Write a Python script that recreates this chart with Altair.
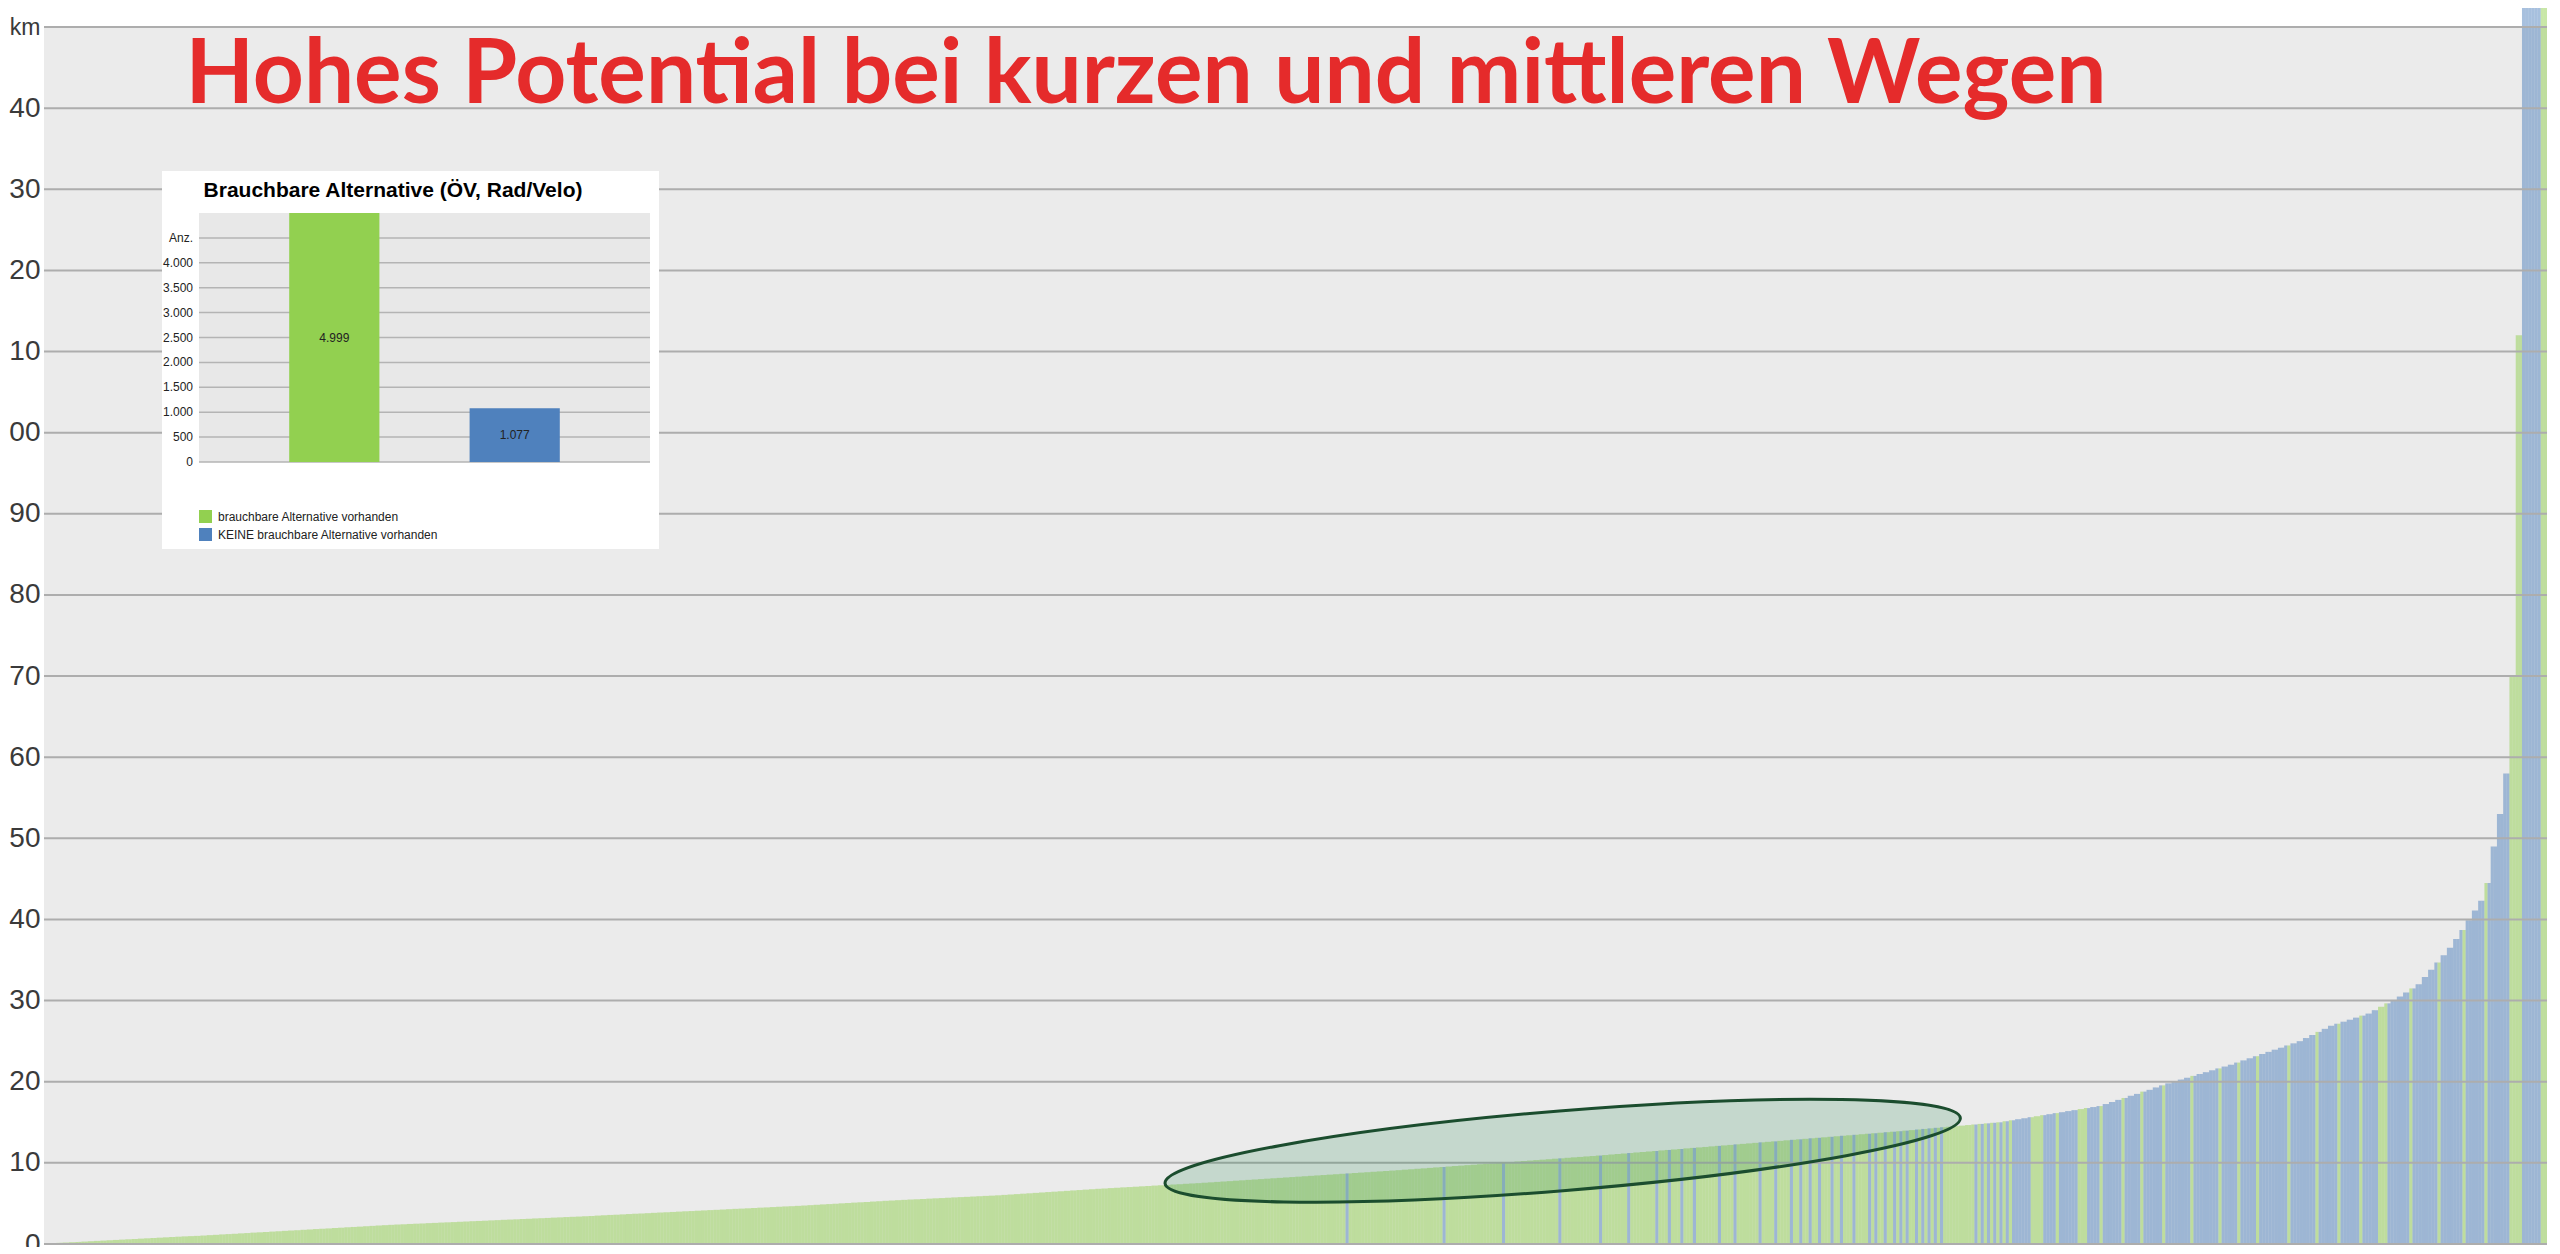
import altair as alt
import pandas as pd

# ---------------- data ----------------
# distances (km) of the sorted trips, one value per bar
KM = [
    0.05, 0.1, 0.14, 0.18, 0.22, 0.26, 0.3, 0.34, 0.38, 0.42, 0.46, 0.5, 0.54, 0.58, 0.62, 0.66, 0.7, 0.74, 0.78, 0.82,
    0.86, 0.9, 0.94, 0.97, 1.0, 1.04, 1.09, 1.13, 1.18, 1.22, 1.26, 1.31, 1.35, 1.4, 1.44, 1.48, 1.53, 1.57, 1.62, 1.66,
    1.7, 1.75, 1.79, 1.84, 1.88, 1.92, 1.97, 2.01, 2.06, 2.1, 2.14, 2.19, 2.23, 2.28, 2.32, 2.36, 2.4, 2.43, 2.47, 2.5,
    2.53, 2.57, 2.6, 2.64, 2.67, 2.7, 2.74, 2.77, 2.81, 2.84, 2.87, 2.91, 2.94, 2.98, 3.01, 3.04, 3.08, 3.11, 3.15, 3.18,
    3.21, 3.25, 3.28, 3.32, 3.35, 3.38, 3.42, 3.45, 3.5, 3.54, 3.58, 3.61, 3.65, 3.69, 3.73, 3.76, 3.8, 3.84, 3.88, 3.91,
    3.95, 3.99, 4.03, 4.06, 4.1, 4.14, 4.18, 4.21, 4.25, 4.29, 4.33, 4.36, 4.4, 4.44, 4.48, 4.51, 4.55, 4.59, 4.63, 4.66,
    4.7, 4.74, 4.79, 4.83, 4.88, 4.92, 4.96, 5.01, 5.05, 5.1, 5.14, 5.18, 5.23, 5.27, 5.32, 5.36, 5.4, 5.44, 5.48, 5.51,
    5.55, 5.59, 5.63, 5.66, 5.7, 5.74, 5.78, 5.81, 5.85, 5.89, 5.93, 5.96, 6.0, 6.05, 6.1, 6.15, 6.2, 6.25, 6.3, 6.35,
    6.4, 6.45, 6.5, 6.55, 6.6, 6.65, 6.7, 6.75, 6.8, 6.84, 6.89, 6.93, 6.98, 7.02, 7.06, 7.11, 7.15, 7.2, 7.24, 7.28,
    7.33, 7.37, 7.42, 7.46, 7.5, 7.55, 7.6, 7.65, 7.7, 7.75, 7.8, 7.85, 7.9, 7.95, 8.0, 8.05, 8.1, 8.15, 8.2, 8.25,
    8.3, 8.35, 8.4, 8.45, 8.5, 8.55, 8.6, 8.65, 8.7, 8.75, 8.8, 8.85, 8.9, 8.95, 9.0, 9.05, 9.1, 9.16, 9.21, 9.27,
    9.32, 9.38, 9.44, 9.49, 9.55, 9.61, 9.66, 9.72, 9.77, 9.83, 9.89, 9.94, 10.0, 10.06, 10.11, 10.17, 10.23, 10.28, 10.34, 10.39,
    10.45, 10.51, 10.56, 10.62, 10.68, 10.73, 10.79, 10.84, 10.9, 10.96, 11.03, 11.09, 11.15, 11.21, 11.28, 11.34, 11.4, 11.46, 11.53, 11.59,
    11.65, 11.71, 11.78, 11.84, 11.9, 11.96, 12.03, 12.09, 12.15, 12.21, 12.28, 12.34, 12.4, 12.46, 12.53, 12.59, 12.65, 12.71, 12.78, 12.84,
    12.9, 12.96, 13.03, 13.09, 13.15, 13.21, 13.28, 13.34, 13.4, 13.46, 13.53, 13.59, 13.65, 13.71, 13.78, 13.84, 13.9, 13.97, 14.04, 14.11,
    14.18, 14.25, 14.32, 14.39, 14.45, 14.52, 14.59, 14.66, 14.73, 14.8, 14.87, 14.94, 15.0, 15.13, 15.25, 15.38, 15.5, 15.63, 15.75, 15.88,
    16.0, 16.13, 16.25, 16.38, 16.5, 16.63, 16.75, 16.88, 17.0, 17.25, 17.5, 17.76, 18.0, 18.27, 18.5, 18.78, 19.0, 19.3, 19.55, 19.8,
    20.03, 20.26, 20.49, 20.72, 20.95, 21.18, 21.41, 21.64, 21.87, 22.1, 22.36, 22.63, 22.89, 23.15, 23.42, 23.68, 23.95, 24.2, 24.47, 24.73,
    25.0, 25.38, 25.76, 26.14, 26.52, 26.9, 27.15, 27.4, 27.65, 27.9, 28.15, 28.4, 28.82, 29.24, 29.66, 30.08, 30.5, 31.0, 31.5, 32.0,
    32.9, 33.8, 34.7, 35.6, 36.5, 37.6, 38.7, 39.9, 41.1, 42.3, 44.5, 49.0, 53.0, 58.0, 70.0, 112.0, 180.0, 185.0, 190.0, 200.0,
]

# each distance reading is drawn as two half-width stripes; these runs of
# stripes (inclusive start/end stripe index, 0..799) have NO usable
# alternative (blue); every other stripe is green
BLUE_RUNS = [
    (416, 416), (447, 447), (466, 466), (484, 484), (497, 497), (506, 506), (515, 515),
    (519, 519), (523, 523), (527, 527), (535, 535), (540, 540), (548, 548), (553, 553),
    (558, 558), (561, 561), (564, 564), (567, 567), (571, 571), (574, 574), (578, 578),
    (583, 583), (585, 585), (588, 588), (591, 591), (593, 593), (595, 595), (598, 598),
    (600, 600), (602, 602), (604, 604), (606, 606), (617, 617), (619, 619), (621, 621),
    (623, 623), (625, 625), (627, 627), (629, 634), (639, 642), (644, 649), (653, 656),
    (658, 663), (665, 669), (671, 676), (678, 685), (687, 694), (696, 700), (702, 706),
    (708, 716), (718, 725), (727, 732), (734, 739), (741, 745), (749, 755), (757, 764),
    (766, 772), (774, 779), (781, 787), (792, 797),
]

Y_TICKS = [0, 10, 20, 30, 40, 50, 60, 70, 80, 90, 100, 110, 120, 130, 140, 150]
Y_TICK_LABELS = ["0", "10", "20", "30", "40", "50", "60", "70", "80", "90",
                 "00", "10", "20", "30", "40", "km"]

INSET_CATS = ["brauchbare Alternative vorhanden", "KEINE brauchbare Alternative vorhanden"]
INSET_VALUES = [4999, 1077]
INSET_VALUE_LABELS = ["4.999", "1.077"]
INSET_TICKS = [0, 500, 1000, 1500, 2000, 2500, 3000, 3500, 4000, 4500]
INSET_TICK_LABELS = ["0", "500", "1.000", "1.500", "2.000", "2.500", "3.000", "3.500", "4.000", "Anz."]
INSET_COLORS = ["#92d050", "#4f81bd"]

TITLE = "Hohes Potential bei kurzen und mittleren Wegen"
INSET_TITLE = "Brauchbare Alternative (ÖV, Rad/Velo)"

# highlighted region (ellipse) in data units: reading index / km
ELLIPSE_X = [242.7]
ELLIPSE_Y = [11.5]

# ---------------- layout constants ----------------
W, H = 2503, 1217
FONT = "Liberation Sans"

n = len(KM)
blue = set()
for a, b in BLUE_RUNS:
    blue.update(range(a, b + 1))
rows = []
for j in range(2 * n):
    rows.append({
        "x0": j / 2,
        "x1": (j + 1) / 2,
        "km": KM[j // 2],
        "col": INSET_COLORS[1] if j in blue else INSET_COLORS[0],
    })
main_df = pd.DataFrame(rows)

label_expr = "[" + ",".join("'%s'" % s for s in Y_TICK_LABELS) + "][round(datum.value/10)]"

x_main = alt.Scale(domain=[0, n], nice=False, zero=False)
y_main = alt.Scale(domain=[0, 150], nice=False)

bars = alt.Chart(main_df).mark_rect(opacity=0.5, clip=False, strokeWidth=0).encode(
    x=alt.X("x0:Q", scale=x_main, axis=None),
    x2="x1:Q",
    y=alt.Y("km:Q", scale=y_main,
            axis=alt.Axis(values=Y_TICKS, labelExpr=label_expr, grid=False, ticks=False,
                          domain=False,
                          labelFontSize={"condition": {"test": "datum.value == 150", "value": 23},
                                         "value": 28},
                          labelPadding=4, labelFont=FONT,
                          labelColor="#3a3a3a", title=None)),
    y2=alt.datum(0),
    color=alt.Color("col:N", scale=None),
)

grid = alt.Chart(pd.DataFrame({"v": Y_TICKS})).mark_rule(color="#adadad", strokeWidth=2).encode(
    y=alt.Y("v:Q", scale=y_main)
)

ELLIPSE_PATH = ("M -1 0 C -1 -0.05523 -0.5523 -0.1 0 -0.1 C 0.5523 -0.1 1 -0.05523 1 0 "
                "C 1 0.05523 0.5523 0.1 0 0.1 C -0.5523 0.1 -1 0.05523 -1 0 Z")
ellipse = alt.Chart(pd.DataFrame({"x": ELLIPSE_X, "y": ELLIPSE_Y})).mark_point(
    shape=ELLIPSE_PATH, size=798 * 798, angle=355.3, fill="#2e8b57", fillOpacity=0.2,
    stroke="#1b4d2e", strokeWidth=3, opacity=1,
).encode(x=alt.X("x:Q", scale=x_main), y=alt.Y("y:Q", scale=y_main))

main_layer = alt.layer(bars, grid, ellipse)

title = alt.Chart(pd.DataFrame({"t": [TITLE]})).mark_text(
    font="Lato", fontWeight="bold", fontSize=89, color="#e52b2b", align="center",
    baseline="alphabetic",
).encode(text="t:N", x=alt.value(1102), y=alt.value(76))

# ---------------- inset ----------------
x_in = alt.Scale(domain=INSET_CATS, range=[155, 606], paddingInner=0.5, paddingOuter=0.5)
y_in = alt.Scale(domain=[0, 5000], range=[435, 186], clamp=True, nice=False, zero=True)
one = pd.DataFrame({"a": [0]})

box = alt.Chart(one).mark_rect(fill="white").encode(
    x=alt.value(118), x2=alt.value(615), y=alt.value(144), y2=alt.value(522))
in_bg = alt.Chart(one).mark_rect(fill="#e8e8e8").encode(
    x=alt.value(155), x2=alt.value(606), y=alt.value(186), y2=alt.value(435))

tick_df = pd.DataFrame({"v": INSET_TICKS, "lab": INSET_TICK_LABELS})
in_grid = alt.Chart(tick_df).mark_rule(color="#b4b4b4", strokeWidth=1.5).encode(
    y=alt.Y("v:Q", scale=y_in, axis=None), x=alt.value(155), x2=alt.value(606))
in_ticks = alt.Chart(tick_df).mark_text(
    align="right", baseline="middle", fontSize=12, font=FONT, color="#222222"
).encode(y=alt.Y("v:Q", scale=y_in, axis=None), x=alt.value(149), text="lab:N")

in_df = pd.DataFrame({"cat": INSET_CATS, "val": INSET_VALUES, "lab": INSET_VALUE_LABELS})
in_bars = alt.Chart(in_df).mark_bar(strokeWidth=0).encode(
    x=alt.X("cat:N", scale=x_in, axis=None, sort=INSET_CATS),
    y=alt.Y("val:Q", scale=y_in, axis=None),
    color=alt.Color("cat:N", scale=alt.Scale(domain=INSET_CATS, range=INSET_COLORS),
                    legend=alt.Legend(orient="none", legendX=155, legendY=483, title=None,
                                      symbolType="square", symbolSize=169, symbolStrokeWidth=0,
                                      symbolOpacity=1, labelFontSize=12, labelFont=FONT,
                                      labelColor="#222222", rowPadding=5, labelOffset=6,
                                      labelLimit=0, padding=0)),
)
in_labels = alt.Chart(in_df).transform_calculate(mid="datum.val/2").mark_text(
    fontSize=12, font=FONT, color="#222222", baseline="middle"
).encode(
    x=alt.X("cat:N", scale=x_in, axis=None, sort=INSET_CATS),
    y=alt.Y("mid:Q", scale=y_in, axis=None),
    text="lab:N",
)
in_title = alt.Chart(pd.DataFrame({"t": [INSET_TITLE]})).mark_text(
    font=FONT, fontWeight="bold", fontSize=21, color="#000000", align="center",
    baseline="alphabetic",
).encode(text="t:N", x=alt.value(349), y=alt.value(170))

inset_layer = alt.layer(box, in_bg, in_grid, in_bars, in_labels, in_ticks, in_title)

chart = alt.layer(main_layer, inset_layer, title).resolve_scale(
    x="independent", y="independent", color="independent"
).properties(
    width=W, height=H,
    autosize=alt.AutoSizeParams(type="none"),
    padding={"left": 36, "top": 19, "right": 5, "bottom": 3},
    background="white",
).configure_view(fill="#ebebeb", stroke=None)

chart.save("out.html", embed_options={"renderer": "svg", "actions": False})
